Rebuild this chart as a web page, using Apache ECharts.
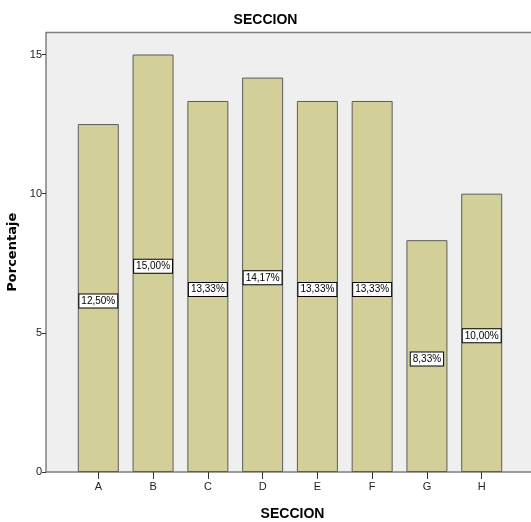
<!DOCTYPE html>
<html><head><meta charset="utf-8">
<script src="https://cdn.jsdelivr.net/npm/echarts@6/dist/echarts.min.js"></script>
<style>html,body{margin:0;padding:0;background:#fff}#c{width:531px;height:522px}</style>
</head><body><div id="c"></div>
<script>
const categories = ['A','B','C','D','E','F','G','H'];
const values = [12.50, 15.00, 13.33, 14.17, 13.33, 13.33, 8.33, 10.00];
const labels = ['12,50%','15,00%','13,33%','14,17%','13,33%','13,33%','8,33%','10,00%'];
const yTicks = [0, 5, 10, 15];
const positions = categories.map((c, i) => i);

const GL = 46, GT = 32.5;
const chart = echarts.init(document.getElementById('c'), null, {renderer: 'canvas'});
chart.setOption({
  animation: false,
  backgroundColor: '#ffffff',
  title: {
    text: 'SECCION', left: 'center', top: 8,
    textStyle: {fontFamily: 'Liberation Sans', fontWeight: 'bold', fontSize: 14, color: '#000'}
  },
  grid: {left: GL, right: 0, top: GT, bottom: 50, show: true, backgroundColor: '#efefef', borderWidth: 0,
    containLabel: false, outerBoundsMode: 'none'},
  graphic: [{
    type: 'line', z: 10,
    shape: {x1: GL, y1: GT, x2: 531, y2: GT},
    style: {stroke: '#808080', lineWidth: 1.5}
  }],
  xAxis: {
    type: 'value', min: -0.955, max: 7.9,
    name: 'SECCION', nameLocation: 'middle', nameGap: 35,
    nameTextStyle: {fontFamily: 'Liberation Sans', fontWeight: 'bold', fontSize: 14, color: '#000', padding: [0, 0, 0, 8]},
    splitLine: {show: false},
    axisLine: {show: true, onZero: false, lineStyle: {color: '#808080', width: 1.5}},
    axisTick: {show: true, length: 7, customValues: positions, lineStyle: {color: '#333'}},
    axisLabel: {customValues: positions, margin: 9, fontFamily: 'Liberation Sans', fontSize: 11, color: '#222',
      formatter: v => categories[Math.round(v)] || ''}
  },
  yAxis: {
    type: 'value', min: 0, max: 15.79,
    name: 'Porcentaje', nameLocation: 'middle', nameGap: 24,
    nameTextStyle: {fontFamily: 'DejaVu Sans', fontWeight: 'bold', fontSize: 13, color: '#000'},
    splitLine: {show: false},
    axisLine: {show: true, onZero: false, lineStyle: {color: '#808080', width: 1.5}},
    axisTick: {show: true, length: 4, customValues: yTicks, lineStyle: {color: '#333'}},
    axisLabel: {customValues: yTicks, margin: 4, fontFamily: 'Liberation Sans', fontSize: 11, color: '#222'}
  },
  series: [{
    type: 'bar',
    barWidth: 41,
    data: values.map((v, i) => [positions[i], v]),
    itemStyle: {color: '#d3cf98', borderColor: '#5c5c5c', borderWidth: 1},
    label: {
      show: true, position: 'inside', offset: [0, 3],
      formatter: p => labels[p.dataIndex],
      fontFamily: 'Liberation Sans', fontSize: 10, color: '#000',
      backgroundColor: '#fff', borderColor: '#000', borderWidth: 1, padding: [2, 2, 1, 2]
    }
  }]
});
</script></body></html>
